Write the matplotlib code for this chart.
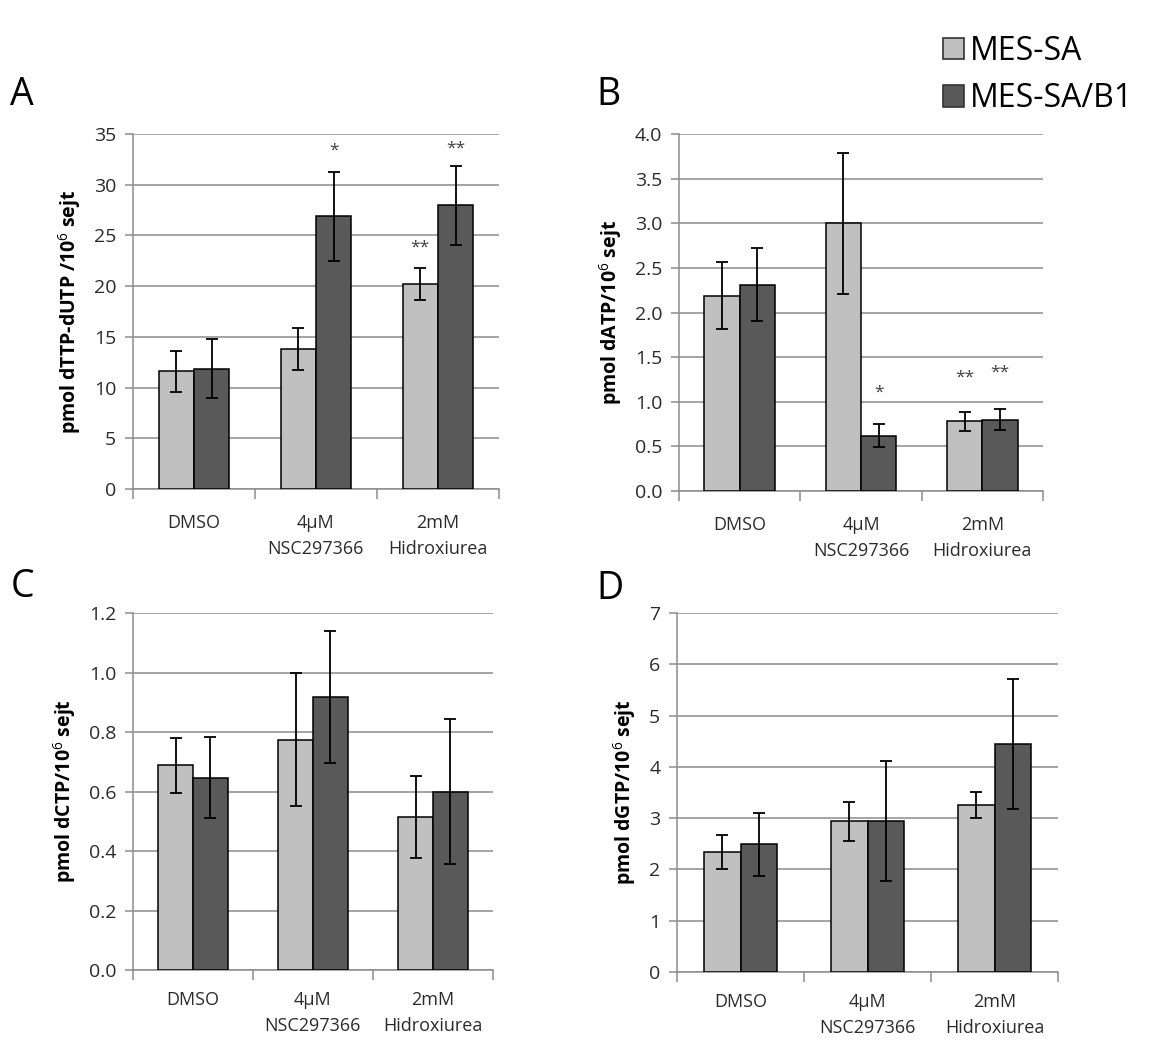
import matplotlib
matplotlib.use("Agg")
import matplotlib.pyplot as plt
from matplotlib.patches import Patch
import numpy as np

plt.rcParams["font.family"] = ["Open Sans", "DejaVu Sans"]
plt.rcParams["mathtext.fontset"] = "custom"
plt.rcParams["mathtext.rm"] = "Open Sans"
plt.rcParams["mathtext.bf"] = "Open Sans:bold"

# data
categories = ["DMSO", "4µM\nNSC297366", "2mM\nHidroxiurea"]
series = ["MES-SA", "MES-SA/B1"]

dttp_mes = [11.6, 13.8, 20.2]
dttp_mes_err = [2.05, 2.1, 1.55]
dttp_b1 = [11.85, 26.9, 27.95]
dttp_b1_err = [2.9, 4.4, 3.9]

datp_mes = [2.19, 3.0, 0.78]
datp_mes_err = [0.38, 0.79, 0.11]
datp_b1 = [2.31, 0.62, 0.80]
datp_b1_err = [0.41, 0.13, 0.12]

dctp_mes = [0.688, 0.774, 0.513]
dctp_mes_err = [0.093, 0.224, 0.138]
dctp_b1 = [0.647, 0.918, 0.599]
dctp_b1_err = [0.136, 0.223, 0.244]

dgtp_mes = [2.34, 2.94, 3.26]
dgtp_mes_err = [0.33, 0.38, 0.25]
dgtp_b1 = [2.49, 2.94, 4.45]
dgtp_b1_err = [0.61, 1.17, 1.27]

# significance marks: (series index, category index, y, label)
stars_a = [(1, 1, 33.4, "*"), (0, 2, 23.8, "**"), (1, 2, 33.6, "**")]
stars_b = [(1, 1, 1.10, "*"), (0, 2, 1.27, "**"), (1, 2, 1.33, "**")]

LIGHT = "#c0c0c0"
DARK = "#595959"
GRID = "#8c8c8c"
TXT = "#2b2b2b"
W = 0.29


def panel(fig, rect, letter, letter_xy, mes, mes_err, b1, b1_err, ymax,
          ystep, fmt, ylabel, stars=(), xpad=18):
    ax = fig.add_axes(rect)
    x = np.arange(len(categories))
    ax.bar(x - W / 2, mes, W, color=LIGHT, edgecolor="black", lw=1.1, zorder=3)
    ax.bar(x + W / 2, b1, W, color=DARK, edgecolor="black", lw=1.1, zorder=3)
    ax.errorbar(x - W / 2, mes, yerr=mes_err, fmt="none", ecolor="black",
                elinewidth=1.3, capsize=4, capthick=1.3, zorder=4)
    ax.errorbar(x + W / 2, b1, yerr=b1_err, fmt="none", ecolor="black",
                elinewidth=1.3, capsize=4, capthick=1.3, zorder=4)

    ax.set_xlim(-0.5, len(categories) - 0.5)
    ax.set_ylim(0, ymax)
    ticks = np.arange(0, ymax + ystep / 2, ystep)
    ax.set_yticks(ticks)
    ax.set_yticklabels([fmt.format(t) for t in ticks])
    ax.yaxis.grid(True, color=GRID, lw=1.1, zorder=0)
    ax.set_axisbelow(True)

    ax.set_xticks(x)
    ax.set_xticklabels(categories, linespacing=1.6)
    ax.set_xticks(np.arange(-0.5, len(categories)), minor=True)
    ax.tick_params(axis="x", which="major", length=0, pad=xpad,
                   labelsize=13, colors=TXT)
    ax.tick_params(axis="x", which="minor", length=7, color=GRID, width=1.1)
    ax.tick_params(axis="y", length=6, color=GRID, width=1.1, pad=6,
                   labelsize=14, colors=TXT)

    for s in ("top", "right"):
        ax.spines[s].set_visible(False)
    for s in ("left", "bottom"):
        ax.spines[s].set_color(GRID)
        ax.spines[s].set_linewidth(1.1)

    ax.set_ylabel(ylabel, fontsize=14, fontweight="bold", labelpad=7)

    for si, ci, y, lab in stars:
        ax.text(ci + (W / 2 if si else -W / 2), y, lab, ha="center",
                va="center", fontsize=12.5, color="#404040")

    fig.text(letter_xy[0], letter_xy[1], letter, fontsize=27,
             ha="left", va="center", color="black")
    return ax


fig = plt.figure(figsize=(11.53, 10.41), dpi=100)

panel(fig, [0.1153, 0.5303, 0.3174, 0.341], "A", (0.009, 0.909),
      dttp_mes, dttp_mes_err, dttp_b1, dttp_b1_err, 35, 5, "{:.0f}",
      r"pmol dTTP-dUTP /10$^{6}$ sejt", stars_a)
panel(fig, [0.5889, 0.5283, 0.3157, 0.343], "B", (0.517, 0.909),
      datp_mes, datp_mes_err, datp_b1, datp_b1_err, 4.0, 0.5, "{:.1f}",
      r"pmol dATP/10$^{6}$ sejt", stars_b)
panel(fig, [0.1153, 0.0682, 0.3122, 0.3429], "C", (0.009, 0.436),
      dctp_mes, dctp_mes_err, dctp_b1, dctp_b1_err, 1.2, 0.2, "{:.1f}",
      r"pmol dCTP/10$^{6}$ sejt", xpad=15)
panel(fig, [0.5872, 0.0663, 0.3304, 0.3448], "D", (0.517, 0.434),
      dgtp_mes, dgtp_mes_err, dgtp_b1, dgtp_b1_err, 7, 1, "{:.0f}",
      r"pmol dGTP/10$^{6}$ sejt", xpad=15)

handles = [Patch(facecolor=LIGHT, edgecolor="#333333", lw=1.2, label=series[0]),
           Patch(facecolor=DARK, edgecolor="#333333", lw=1.2, label=series[1])]
fig.legend(handles=handles, loc="upper left", bbox_to_anchor=(0.793, 0.994),
           frameon=False, fontsize=23, handlelength=0.65, handleheight=0.65,
           handletextpad=0.2, labelspacing=0.45)

fig.savefig("out.png", dpi=100)
